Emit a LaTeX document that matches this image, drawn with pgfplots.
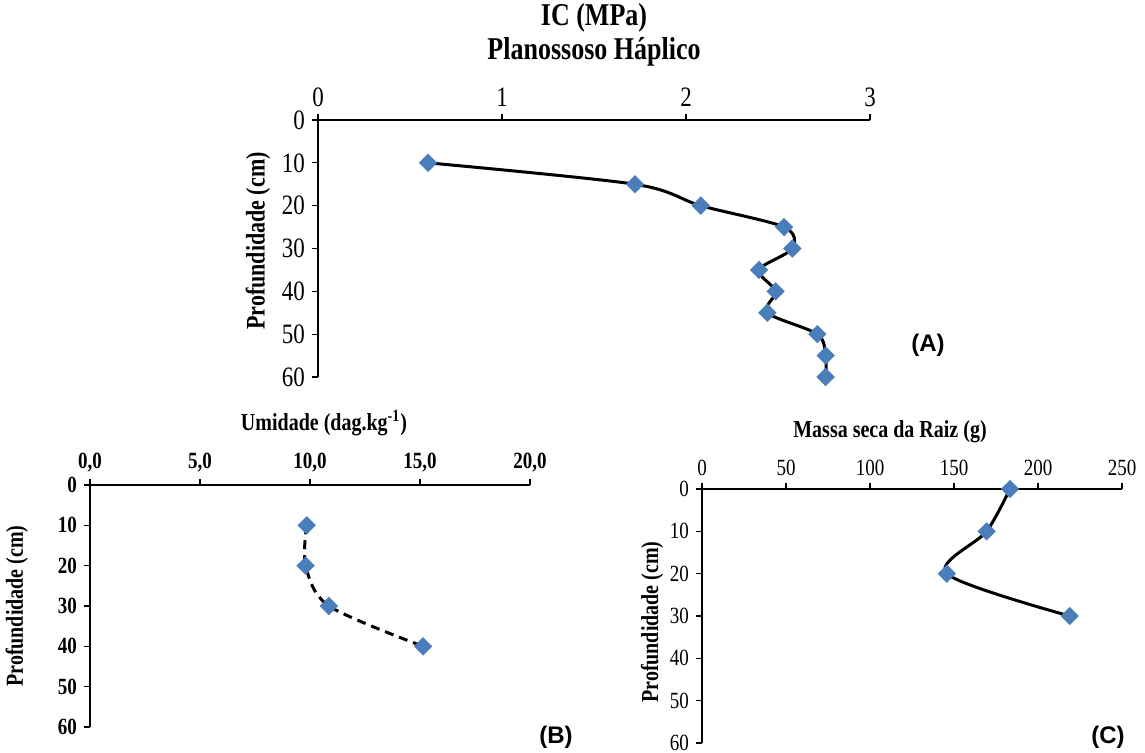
\documentclass[border=0pt]{standalone}
\usepackage{pgfplots}
\pgfplotsset{compat=1.18}
\usepackage{fontspec}
\setmainfont{Liberation Serif}
\newfontfamily\arial{Liberation Sans}
\definecolor{mk}{RGB}{74,126,187}
\newcommand{\tall}[1]{\scalebox{1}[1.22]{#1}}
\begin{document}
\begin{tikzpicture}
\pgfplotsset{
 every axis/.append style={scale only axis, y dir=reverse, ymin=0, ymax=60, ytick={0,10,...,60},
   axis x line*=top, axis y line*=left, tick align=outside, major tick length=3pt,
   axis line style={line width=0.6pt}, every tick/.style={black, line width=0.6pt},
   /pgf/number format/assume math mode=true, clip=false, anchor=south west},
 curve/.style={black, line width=1.5pt, smooth, tension=0.5, mark=square*, mark size=2.5pt,
   mark options={fill=mk, draw=mk, rotate=45, solid}},
}
\path[use as bounding box] (0,0) rectangle (572.5pt,376.5pt);
% (A)
\begin{axis}[at={(159pt,188pt)}, width=276pt, height=128.5pt, xmin=0, xmax=3, xtick={0,1,2,3},
  ticklabel style={font=\fontsize{11.5}{13}\selectfont},
  xticklabel={\tall{\pgfmathprintnumber{\tick}}},
  yticklabel={\tall{\pgfmathprintnumber{\tick}}}]
\addplot[curve] coordinates {(0.598,10) (1.723,15) (2.08,20) (2.533,25) (2.578,30) (2.397,35) (2.487,40) (2.442,45) (2.714,50) (2.759,55) (2.759,60)};
\end{axis}
% (B)
\begin{axis}[at={(45pt,13pt)}, width=220pt, height=121pt, xmin=0, xmax=20, xtick={0,5,...,20},
  ticklabel style={font=\bfseries\fontsize{9.5}{11}\selectfont},
  xticklabel={\tall{\pgfmathprintnumber[fixed,fixed zerofill,precision=1,use comma]{\tick}}},
  yticklabel={\tall{\pgfmathprintnumber{\tick}}}]
\addplot[curve, dashed, dash pattern=on 4.5pt off 3pt] coordinates {(9.85,10) (9.80,20) (10.86,30) (15.14,40)};
\end{axis}
% (C)
\begin{axis}[at={(351pt,5pt)}, width=210pt, height=127pt, xmin=0, xmax=250, xtick={0,50,...,250},
  ticklabel style={font=\fontsize{9.5}{11}\selectfont},
  xticklabel={\tall{\pgfmathprintnumber{\tick}}},
  yticklabel={\tall{\pgfmathprintnumber{\tick}}}]
\addplot[curve] coordinates {(183.3,0) (169.4,10) (145.7,20) (218.9,30)};
\end{axis}
\node[font=\bfseries\fontsize{13}{15}\selectfont] at (297pt,367.5pt) {\tall{IC (MPa)}};
\node[font=\bfseries\fontsize{13}{15}\selectfont] at (297pt,350.5pt) {\tall{Planossoso Háplico}};
\node[font=\bfseries\fontsize{11}{13}\selectfont, rotate=90] at (129pt,256pt) {\tall{Profundidade (cm)}};
\node[font=\bfseries\fontsize{10}{12}\selectfont] at (162pt,165pt) {\tall{Umidade (dag.kg\textsuperscript{-1})}};
\node[font=\bfseries\fontsize{10}{12}\selectfont, rotate=90] at (8.5pt,73.5pt) {\tall{Profundidade (cm)}};
\node[font=\bfseries\fontsize{10}{12}\selectfont] at (445pt,160.5pt) {\tall{Massa seca da Raiz (g)}};
\node[font=\bfseries\fontsize{10}{12}\selectfont, rotate=90] at (326pt,65.5pt) {\tall{Profundidade (cm)}};
\node[font=\arial\bfseries\fontsize{12}{14}\selectfont] at (464pt,204pt) {(A)};
\node[font=\arial\bfseries\fontsize{12}{14}\selectfont] at (278pt,8pt) {(B)};
\node[font=\arial\bfseries\fontsize{12}{14}\selectfont] at (554pt,8pt) {(C)};
\end{tikzpicture}
\end{document}
